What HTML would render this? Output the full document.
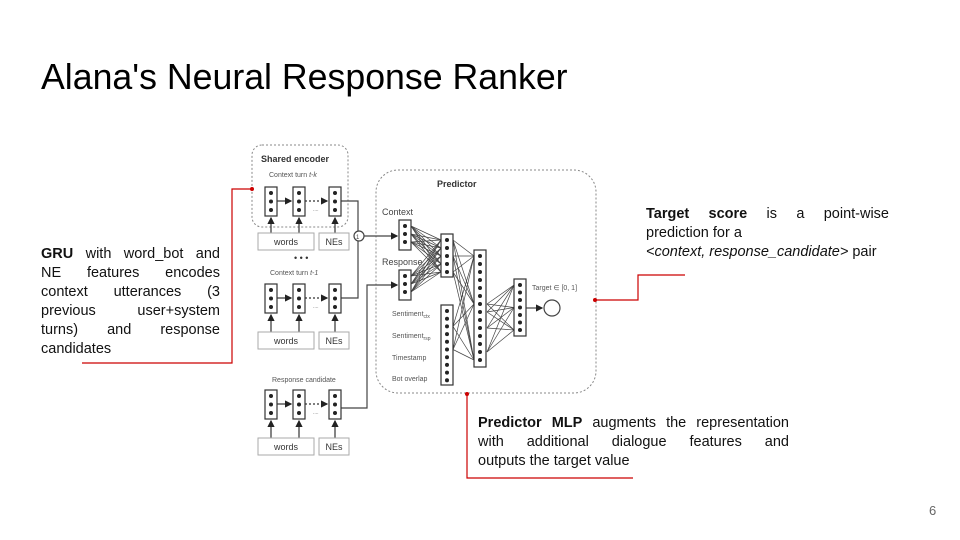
<!DOCTYPE html>
<html><head><meta charset="utf-8"><style>
body{margin:0;background:#fff;}
#p{position:relative;width:960px;height:540px;overflow:hidden;font-family:"Liberation Sans",sans-serif;}
.t{position:absolute;font-size:14.5px;line-height:19px;color:#111;}
.t div{text-align:justify;text-align-last:justify;white-space:nowrap;}
.t div.l{text-align-last:left;}
</style></head><body><div id="p">
<div style="position:absolute;left:41px;top:57px;font-size:35.7px;color:#000;">Alana's Neural Response Ranker</div>
<div class="t" style="left:41px;top:245px;width:179px;">
<div><b>GRU</b> with word_bot and</div><div>NE features encodes</div><div>context utterances (3</div><div>previous user+system</div><div>turns) and response</div><div class="l">candidates</div></div>
<div class="t" style="left:646px;top:205px;width:243px;">
<div><b>Target score</b> is a point-wise</div><div class="l">prediction for a</div><div class="l"><i>&lt;context, response_candidate&gt;</i> pair</div></div>
<div class="t" style="left:478px;top:414px;width:311px;">
<div><b>Predictor MLP</b> augments the representation</div><div>with additional dialogue features and</div><div class="l">outputs the target value</div></div>
<div style="position:absolute;left:929px;top:503px;font-size:13px;color:#666;">6</div>
<svg id="s" width="960" height="540" style="position:absolute;left:0;top:0" xmlns="http://www.w3.org/2000/svg" font-family="Liberation Sans, sans-serif">
<defs><marker id="a" markerWidth="6" markerHeight="6" refX="5" refY="3" orient="auto"><path d="M0,0L6,3L0,6z" fill="#222"/></marker></defs>
<rect x="252" y="145" width="96" height="82" rx="10" fill="none" stroke="#888" stroke-dasharray="2,2"/>
<rect x="376" y="170" width="220" height="223" rx="22" fill="none" stroke="#888" stroke-dasharray="2,2"/>
<text x="261" y="162" font-size="9" font-weight="bold" fill="#333">Shared encoder</text>
<text x="269" y="177" font-size="7" fill="#555">Context turn <tspan font-style="italic">t-k</tspan></text>
<text x="270" y="275" font-size="7" fill="#555">Context turn <tspan font-style="italic">t-1</tspan></text>
<text x="272" y="382" font-size="7" fill="#555">Response candidate</text>
<text x="294" y="261" font-size="9" fill="#333">• • •</text>
<text x="437" y="187" font-size="9" font-weight="bold" fill="#333">Predictor</text>
<text x="382" y="215" font-size="9" fill="#444">Context</text>
<text x="382" y="265" font-size="9" fill="#444">Response</text>
<text x="392" y="316" font-size="7" fill="#555">Sentiment<tspan font-size="5" dy="2">ctx</tspan></text>
<text x="392" y="338" font-size="7" fill="#555">Sentiment<tspan font-size="5" dy="2">rsp</tspan></text>
<text x="392" y="360" font-size="7" fill="#555">Timestamp</text>
<text x="392" y="381" font-size="7" fill="#555">Bot overlap</text>
<text x="532" y="290" font-size="7" fill="#555">Target ∈ [0, 1]</text>
<g fill="none" stroke="#444" stroke-width="1.2">
<path d="M341,201H358V231"/><path d="M341,298H358V241"/>
<path d="M364,236H397" marker-end="url(#a)"/>
<path d="M341,408H367V285H397" marker-end="url(#a)"/>
<circle cx="359" cy="236" r="5" fill="#fff"/>
<circle cx="552" cy="308" r="8"/>
<path d="M526,308H542" marker-end="url(#a)"/>
</g>
<text x="356" y="239" font-size="6" fill="#444">1</text>
<g id="cells"></g>
<g fill="none" stroke="#c00" stroke-width="1.2">
<path d="M82,363H232V189H252"/><path d="M685,275H638V300H595"/><path d="M467,394V478H633"/>
</g>
<g fill="#c00"><circle cx="252" cy="189" r="2"/><circle cx="595" cy="300" r="2"/><circle cx="467" cy="394" r="2"/></g>
</svg>
<script>
var g=document.getElementById('cells'),h='';
function line(x1,y1,x2,y2,c,w){h+='<line x1="'+x1+'" y1="'+y1+'" x2="'+x2+'" y2="'+y2+'" stroke="'+(c||'#444')+'" stroke-width="'+(w||0.7)+'"/>';}
function col(x,y,n,st){var ys=[];for(var i=0;i<n;i++)ys.push(y+6+i*st);return ys;}
function layer(x,y,hh,ys){h+='<rect x="'+x+'" y="'+y+'" width="12" height="'+hh+'" fill="#fff" stroke="#333" stroke-width="1.2"/>';ys.forEach(function(v){h+='<circle cx="'+(x+6)+'" cy="'+v+'" r="2" fill="#222"/>';});}
function conn(x1,a,x2,b){a.forEach(function(p){b.forEach(function(q){line(x1,p,x2,q);});});}
var C=col(0,220,3,8),R=col(0,270,3,8),L1=col(0,234,5,8),S=col(0,305,10,7.7),L2=col(0,250,14,8),L3=col(0,279,7,7.5);
conn(411,C,441,L1);conn(411,R,441,L1);
conn(453,[L1[0],L1[2],L1[4]],474,[L2[0],L2[6],L2[13]]);
conn(453,[S[2],S[5]],474,[L2[0],L2[6],L2[13]]);
conn(487,[L2[6],L2[7],L2[9],L2[12]],514,[L3[0],L3[3],L3[6]]);
layer(399,220,30,C);layer(399,270,30,R);layer(441,234,43,L1);layer(441,305,80,S);layer(474,250,117,L2);layer(514,279,57,L3);
function enc(y,wy){var xs=[265,293,329];xs.forEach(function(x,i){layer(x,y,29,col(0,y,3,8.5));
h+='<line x1="'+(x+6)+'" y1="'+wy+'" x2="'+(x+6)+'" y2="'+(y+31)+'" stroke="#333" stroke-width="1.2" marker-end="url(#a)"/>';});
h+='<line x1="277" y1="'+(y+14)+'" x2="291" y2="'+(y+14)+'" stroke="#333" stroke-width="1.2" marker-end="url(#a)"/>';
h+='<line x1="305" y1="'+(y+14)+'" x2="327" y2="'+(y+14)+'" stroke="#333" stroke-width="1.2" stroke-dasharray="2,2" marker-end="url(#a)"/>';
h+='<text x="313" y="'+(y+24)+'" font-size="5" fill="#666">....</text>';
h+='<rect x="258" y="'+wy+'" width="56" height="17" fill="#fff" stroke="#aaa"/><text x="286" y="'+(wy+12)+'" font-size="9" text-anchor="middle" fill="#333">words</text>';
h+='<rect x="319" y="'+wy+'" width="30" height="17" fill="#fff" stroke="#aaa"/><text x="334" y="'+(wy+12)+'" font-size="9" text-anchor="middle" fill="#333">NEs</text>';}
enc(187,233);enc(284,332);enc(390,438);
g.innerHTML=h;
</script>
</div></body></html>
